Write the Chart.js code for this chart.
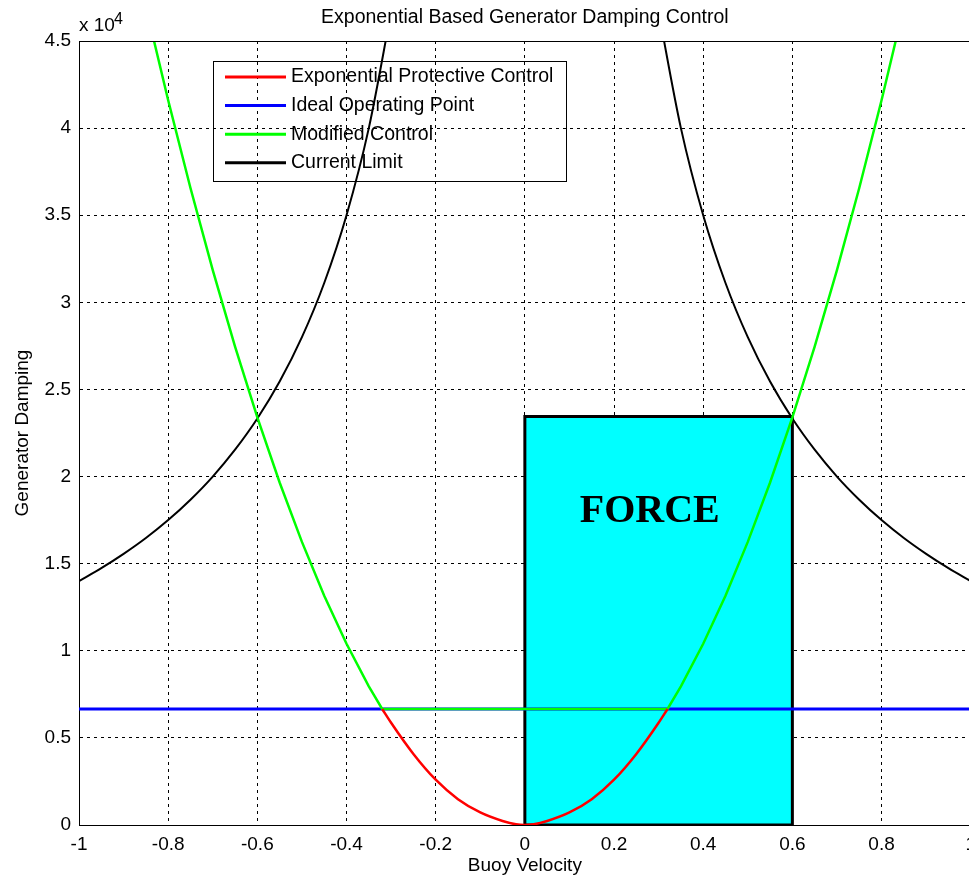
<!DOCTYPE html>
<html>
<head>
<meta charset="utf-8">
<title>Exponential Based Generator Damping Control</title>
<script src="https://cdn.jsdelivr.net/npm/chart.js@4/dist/chart.umd.min.js"></script>
<style>
  html, body { margin: 0; padding: 0; background: #fff; overflow: hidden; }
  canvas { display: block; }
</style>
</head>
<body>
<canvas id="chart" width="984" height="882"></canvas>
<script>
// Axis tick labels
const xTickLabels = ['-1', '-0.8', '-0.6', '-0.4', '-0.2', '0', '0.2', '0.4', '0.6', '0.8', '1'];
const yTickLabels = ['0', '0.5', '1', '1.5', '2', '2.5', '3', '3.5', '4', '4.5'];

// Exponential protective control (buoy velocity, damping)
const protectiveX = [-0.32, -0.3, -0.25, -0.2, -0.15, -0.1, -0.05, -0.02, 0, 0.02, 0.05, 0.1, 0.15, 0.2, 0.25, 0.3, 0.32];
const protectiveY = [6660, 5870, 4080, 2600, 1480, 720, 230, 40, 0, 40, 230, 720, 1480, 2600, 4080, 5870, 6660];

// Ideal operating point
const idealX = [-1, 1];
const idealY = [6660, 6660];

// Modified control
const modifiedX = [-0.85, -0.8, -0.75, -0.7, -0.65, -0.6, -0.55, -0.5, -0.45, -0.4, -0.35, -0.32,
                   0.32, 0.35, 0.4, 0.45, 0.5, 0.55, 0.6, 0.65, 0.7, 0.75, 0.8, 0.85];
const modifiedY = [46960, 41600, 36560, 31850, 27460, 23400, 19660, 16250, 13160, 10400, 7960, 6660,
                   6660, 7960, 10400, 13160, 16250, 19660, 23400, 27460, 31850, 36560, 41600, 46960];

// Current limit (two branches, gap at zero velocity)
const limitX = [-1, -0.95, -0.9, -0.85, -0.8, -0.75, -0.7, -0.65, -0.6, -0.55, -0.5, -0.45, -0.4, -0.35, -0.3,
                0,
                0.3, 0.35, 0.4, 0.45, 0.5, 0.55, 0.6, 0.65, 0.7, 0.75, 0.8, 0.85, 0.9, 0.95, 1];
const limitY = [14000, 14740, 15560, 16470, 17500, 18670, 20000, 21540, 23330, 25450, 28000, 31110, 35000, 40000, 46670,
                null,
                46670, 40000, 35000, 31110, 28000, 25450, 23330, 21540, 20000, 18670, 17500, 16470, 15560, 14740, 14000];

// Force region
const forceX = [0, 0, 0.6, 0.6, 0];
const forceY = [0, 23440, 23440, 0, 0];

const toPoints = (xs, ys) => xs.map((x, i) => ({ x: x, y: ys[i] }));

const FONT = '"Liberation Sans", Arial, Helvetica, sans-serif';
Chart.defaults.font.family = FONT;
Chart.defaults.color = '#000';

const overlay = {
  id: 'overlay',
  afterDatasetsDraw(chart) {
    const { ctx, scales: { x, y } } = chart;
    ctx.save();
    ctx.font = 'bold 40px "Liberation Serif", "Times New Roman", serif';
    ctx.fillStyle = '#000';
    ctx.textAlign = 'center';
    ctx.textBaseline = 'middle';
    ctx.fillText('FORCE', x.getPixelForValue(0.28), y.getPixelForValue(18000));
    ctx.restore();
  },
  afterDraw(chart) {
    const { ctx, chartArea: area } = chart;
    ctx.save();

    // top frame line
    ctx.strokeStyle = '#000';
    ctx.lineWidth = 1;
    ctx.beginPath();
    ctx.moveTo(area.left, area.top + 0.5);
    ctx.lineTo(area.right, area.top + 0.5);
    ctx.moveTo(area.right - 0.5, area.top);
    ctx.lineTo(area.right - 0.5, area.bottom);
    ctx.stroke();

    // chart title, centred over the axes
    ctx.fillStyle = '#000';
    ctx.font = '19.5px ' + FONT;
    ctx.textAlign = 'center';
    ctx.textBaseline = 'middle';
    ctx.fillText('Exponential Based Generator Damping Control', (area.left + area.right) / 2, 18);

    // y-axis multiplier
    ctx.textAlign = 'left';
    ctx.textBaseline = 'alphabetic';
    ctx.font = '19px ' + FONT;
    ctx.fillText('x 10', area.left, 31);
    const w = ctx.measureText('x 10').width;
    ctx.font = '16px ' + FONT;
    ctx.fillText('4', area.left + w - 1, 24);

    // legend box (transparent, grid shows through)
    const box = { left: 213, top: 61, right: 566, bottom: 181 };
    ctx.lineWidth = 1;
    ctx.strokeStyle = '#000';
    ctx.strokeRect(box.left + 0.5, box.top + 0.5, box.right - box.left, box.bottom - box.top);
    const entries = chart.data.datasets.filter(d => d.label);
    ctx.font = '19.5px ' + FONT;
    ctx.textBaseline = 'middle';
    entries.forEach((d, i) => {
      const cy = 77 + i * 28.6;
      ctx.strokeStyle = d.borderColor;
      ctx.lineWidth = 3;
      ctx.beginPath();
      ctx.moveTo(225, cy);
      ctx.lineTo(286, cy);
      ctx.stroke();
      ctx.fillStyle = '#000';
      ctx.fillText(d.label, 291, cy);
    });
    ctx.restore();
  }
};

new Chart(document.getElementById('chart'), {
  type: 'scatter',
  data: {
    datasets: [
      {
        label: 'Exponential Protective Control',
        data: toPoints(protectiveX, protectiveY),
        showLine: true, borderColor: '#ff0000', borderWidth: 2.5,
        pointRadius: 0, cubicInterpolationMode: 'monotone', order: 1
      },
      {
        label: 'Ideal Operating Point',
        data: toPoints(idealX, idealY),
        showLine: true, borderColor: '#0000ff', borderWidth: 3,
        pointRadius: 0, order: 4
      },
      {
        label: 'Modified Control',
        data: toPoints(modifiedX, modifiedY),
        showLine: true, borderColor: '#00ff00', borderWidth: 2.5,
        pointRadius: 0, tension: 0, order: 2
      },
      {
        label: 'Current Limit',
        data: toPoints(limitX, limitY),
        showLine: true, borderColor: '#000000', borderWidth: 2,
        pointRadius: 0, cubicInterpolationMode: 'monotone', spanGaps: false, order: 3
      },
      {
        label: '',
        data: toPoints(forceX, forceY),
        showLine: true, borderColor: '#000000', borderWidth: 3, borderJoinStyle: 'miter',
        backgroundColor: '#00ffff', fill: 'shape', pointRadius: 0, tension: 0, order: 10
      }
    ]
  },
  options: {
    responsive: false,
    animation: false,
    events: [],
    layout: { padding: { left: 0, right: 10, top: 41, bottom: 0 } },
    plugins: {
      legend: { display: false },
      title: { display: false },
      tooltip: { enabled: false }
    },
    scales: {
      x: {
        type: 'linear', min: -1, max: 1, z: 1,
        ticks: {
          stepSize: 0.2, autoSkip: false, maxRotation: 0, padding: 8,
          color: '#000', font: { size: 19 },
          callback: (v, i) => xTickLabels[i]
        },
        grid: { color: '#000', lineWidth: 1, drawTicks: false },
        border: { display: true, color: '#000', width: 1, dash: [3, 4] },
        title: {
          display: true, text: 'Buoy Velocity', color: '#000',
          font: { size: 19 }, padding: { top: 0, bottom: 4.6 }
        },
        afterFit(scale) { scale.height = 57; }
      },
      y: {
        type: 'linear', min: 0, max: 45000, z: 1,
        ticks: {
          stepSize: 5000, autoSkip: false, padding: 8,
          color: '#000', font: { size: 19 },
          callback: (v, i) => yTickLabels[i]
        },
        grid: { color: '#000', lineWidth: 1, drawTicks: false },
        border: { display: true, color: '#000', width: 1, dash: [3, 4] },
        title: {
          display: true, text: 'Generator Damping', color: '#000',
          font: { size: 19 }, padding: { top: 11.3, bottom: 0 }
        },
        afterFit(scale) { scale.width = 79; }
      }
    }
  },
  plugins: [overlay]
});
</script>
</body>
</html>
